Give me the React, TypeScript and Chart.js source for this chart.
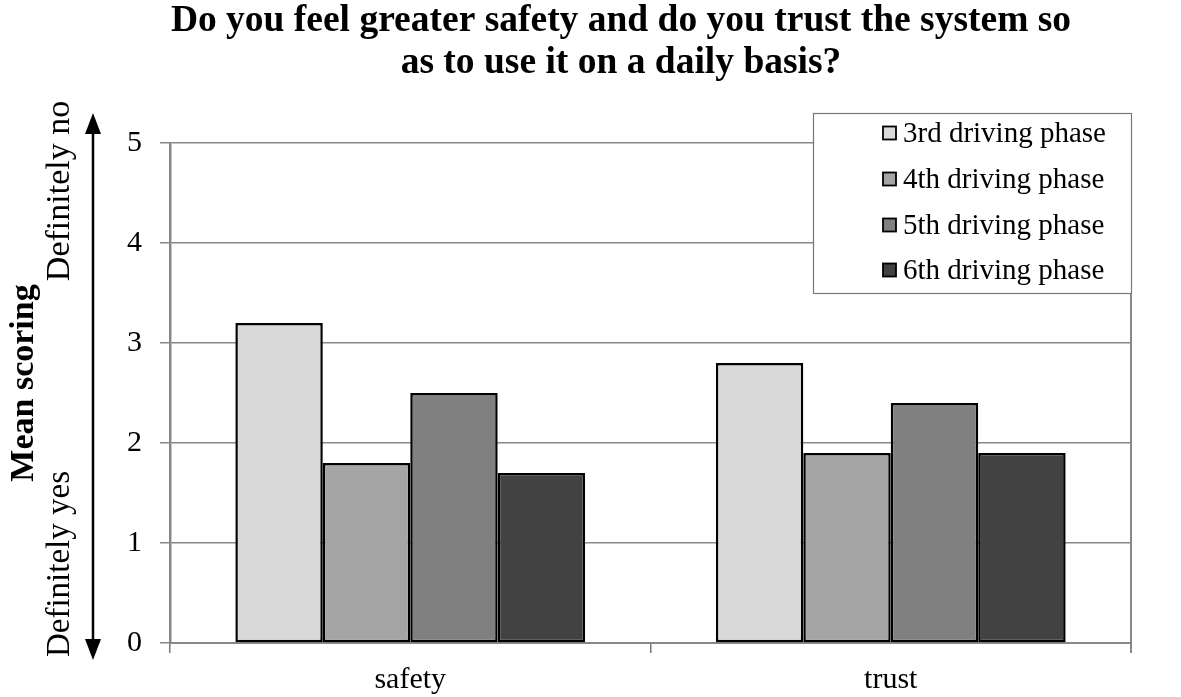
import React, { useEffect, useRef } from "react";
import { Chart, registerables } from "chart.js";

Chart.register(...registerables);

const categories = ["safety", "trust"];
const seriesLabels = ["3rd driving phase", "4th driving phase", "5th driving phase", "6th driving phase"];
const phase3 = [3.2, 2.8];
const phase4 = [1.8, 1.9];
const phase5 = [2.5, 2.4];
const phase6 = [1.7, 1.9];
const seriesColors = ["#d9d9d9", "#a5a5a5", "#808080", "#424242"];
const titleLines = ["Do you feel greater safety and do you trust the system so", "as to use it on a daily basis?"];
const yTicks = [0, 1, 2, 3, 4, 5];

const FONT = "'Liberation Serif', 'Times New Roman', serif";

const decorPlugin = {
  id: "decor",
  beforeDatasetsDraw(chart: any) {
    const { ctx, chartArea } = chart;
    ctx.save();
    ctx.strokeStyle = "#888888";
    ctx.lineWidth = 2;
    ctx.beginPath();
    ctx.moveTo(chartArea.right, chartArea.top);
    ctx.lineTo(chartArea.right, chartArea.bottom + 10);
    ctx.stroke();
    ctx.restore();
  },
  afterDraw(chart: any) {
    const { ctx } = chart;
    ctx.save();
    // title
    ctx.fillStyle = "#000";
    ctx.font = `bold 37.5px ${FONT}`;
    ctx.textAlign = "center";
    ctx.textBaseline = "middle";
    ctx.fillText(titleLines[0], 621, 21);
    ctx.fillText(titleLines[1], 621, 63);

    // rotated labels
    const rot = (text: string, x: number, y: number, font: string) => {
      ctx.save();
      ctx.translate(x, y);
      ctx.rotate(-Math.PI / 2);
      ctx.font = font;
      ctx.textAlign = "center";
      ctx.textBaseline = "middle";
      ctx.fillText(text, 0, 0);
      ctx.restore();
    };
    rot("Mean scoring", 24, 383, `bold 34px ${FONT}`);
    rot("Definitely no", 60, 191, `34px ${FONT}`);
    rot("Definitely yes", 60, 564, `33px ${FONT}`);

    // arrow
    const ax = 93;
    ctx.strokeStyle = "#000";
    ctx.fillStyle = "#000";
    ctx.lineWidth = 2.5;
    ctx.beginPath();
    ctx.moveTo(ax, 125);
    ctx.lineTo(ax, 648);
    ctx.stroke();
    ctx.beginPath();
    ctx.moveTo(ax, 113);
    ctx.lineTo(ax - 8, 134);
    ctx.lineTo(ax + 8, 134);
    ctx.closePath();
    ctx.fill();
    ctx.beginPath();
    ctx.moveTo(ax, 660);
    ctx.lineTo(ax - 8, 639);
    ctx.lineTo(ax + 8, 639);
    ctx.closePath();
    ctx.fill();

    // legend
    const lx = 813, ly = 113, lw = 318, lh = 180;
    ctx.fillStyle = "#fff";
    ctx.fillRect(lx, ly, lw, lh);
    ctx.strokeStyle = "#777";
    ctx.lineWidth = 1.2;
    ctx.strokeRect(lx + 0.5, ly + 0.5, lw, lh);
    const rows = [133, 179, 225, 270];
    ctx.font = `29px ${FONT}`;
    ctx.textAlign = "left";
    ctx.textBaseline = "middle";
    seriesLabels.forEach((lab, i) => {
      const y = rows[i];
      ctx.fillStyle = seriesColors[i];
      ctx.fillRect(883, y - 6.5, 13, 13);
      ctx.strokeStyle = "#000";
      ctx.lineWidth = 1.8;
      ctx.strokeRect(883, y - 6.5, 13, 13);
      ctx.fillStyle = "#000";
      ctx.fillText(lab, 903, y + 1);
    });
    ctx.restore();
  },
};

export default function App() {
  const ref = useRef<HTMLCanvasElement>(null);
  useEffect(() => {
    document.body.style.margin = "0";
    const seriesData = [phase3, phase4, phase5, phase6];
    const chart = new Chart(ref.current!, {
      type: "bar",
      data: {
        labels: categories,
        datasets: seriesLabels.map((label, i) => ({
          label,
          data: seriesData[i],
          backgroundColor: seriesColors[i],
          borderColor: "#000",
          borderWidth: 2.5,
          borderSkipped: false,
          categoryPercentage: 0.728,
          barPercentage: 1.0,
        })),
      },
      options: {
        responsive: false,
        animation: false,
        events: [],
        layout: { padding: { left: 100, right: 50, top: 143, bottom: 0 } },
        plugins: { legend: { display: false }, title: { display: false }, tooltip: { enabled: false } },
        scales: {
          x: {
            offset: true,
            grid: { offset: true, drawOnChartArea: false, drawTicks: true, tickLength: 10, color: "#777", lineWidth: 1.5 },
            border: { display: true, color: "#888", width: 2 },
            ticks: { color: "#000", font: { family: FONT, size: 30 }, padding: 9 },
            afterFit: (s: any) => { s.height = 54; },
          },
          y: {
            min: 0,
            max: 5,
            afterBuildTicks: (s: any) => { s.ticks = yTicks.map((v) => ({ value: v })); },
            grid: { color: "#888", lineWidth: 1.5, tickLength: 10 },
            border: { display: true, color: "#888", width: 2.5 },
            ticks: { color: "#000", font: { family: FONT, size: 30 }, padding: 18 },
            afterFit: (s: any) => { s.width = 70; },
          },
        },
      },
      plugins: [decorPlugin],
    });
    return () => chart.destroy();
  }, []);
  return <canvas ref={ref} width={1181} height={697} style={{ display: "block" }} />;
}
